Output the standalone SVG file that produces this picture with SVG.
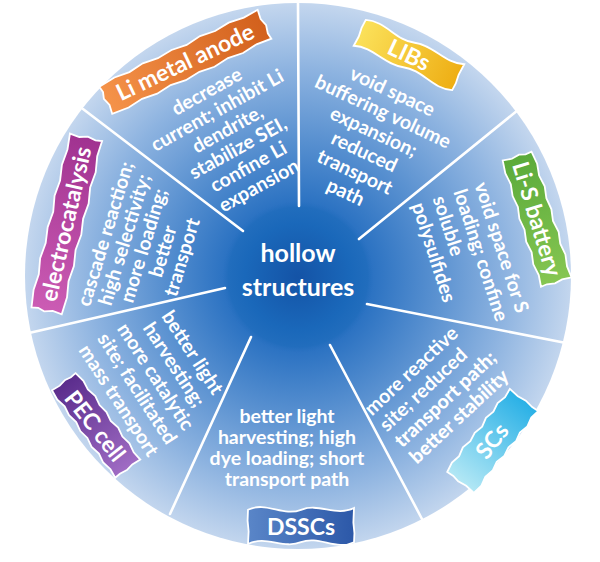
<svg xmlns="http://www.w3.org/2000/svg" xmlns:xlink="http://www.w3.org/1999/xlink" width="600" height="562" viewBox="0 0 600 562">
<style>
.d{font-family:Lato,"Open Sans","DejaVu Sans",sans-serif;font-weight:700;font-size:19.5px;fill:#fff}
.c{text-anchor:middle}
.t{font-family:Lato,"Open Sans","DejaVu Sans",sans-serif;font-weight:700;font-size:23px;fill:#fff;text-anchor:middle}
.h{font-family:Lato,"Open Sans","DejaVu Sans",sans-serif;font-weight:700;font-size:25px;fill:#fff;text-anchor:middle}
.tag{stroke:#fff;stroke-width:1.8}
.sp{stroke:#fff;stroke-width:2.6;stroke-linecap:round;fill:none}
</style>
<defs>
<radialGradient id="gBg" cx="298" cy="277" r="273" gradientUnits="userSpaceOnUse">
<stop offset="0" stop-color="#1a5fb0"/>
<stop offset="0.27" stop-color="#2b72c2"/>
<stop offset="0.5" stop-color="#5890d0"/>
<stop offset="0.76" stop-color="#8db3e0"/>
<stop offset="1" stop-color="#c3d6ee"/>
</radialGradient>
<radialGradient id="gIn" cx="298" cy="277" r="76" gradientUnits="userSpaceOnUse">
<stop offset="0" stop-color="#1453a6"/>
<stop offset="0.7" stop-color="#1a68ba"/>
<stop offset="0.92" stop-color="#1f6cbc" stop-opacity="0.8"/>
<stop offset="1" stop-color="#2870c0" stop-opacity="0"/>
</radialGradient>
<linearGradient id="gOr"><stop offset="0" stop-color="#f5934a"/><stop offset="1" stop-color="#d2601c"/></linearGradient>
<linearGradient id="gYe"><stop offset="0" stop-color="#fbe15a"/><stop offset="1" stop-color="#eeae14"/></linearGradient>
<linearGradient id="gGr"><stop offset="0" stop-color="#5aaa3a"/><stop offset="1" stop-color="#86c652"/></linearGradient>
<linearGradient id="gCy"><stop offset="0" stop-color="#b4e8f5"/><stop offset="1" stop-color="#28b0e6"/></linearGradient>
<linearGradient id="gBl"><stop offset="0" stop-color="#5a86c8"/><stop offset="1" stop-color="#2c58a8"/></linearGradient>
<linearGradient id="gPu"><stop offset="0" stop-color="#5a2c8c"/><stop offset="1" stop-color="#a06cc4"/></linearGradient>
<linearGradient id="gMa"><stop offset="0" stop-color="#cc5cb4"/><stop offset="1" stop-color="#a03290"/></linearGradient>
<path id="jag" vector-effect="non-scaling-stroke" d="M-50,-9 L-40,-10.2 L-31,-9.2 L-22,-10.6 L-13,-9.4 L-4,-10.4 L5,-9.2 L14,-10.6 L23,-9.4 L32,-10.5 L41,-9.3 L50,-10 L49.3,-4 L50.6,1 L49.5,6 L50,10 L41,9.2 L32,10.5 L23,9.3 L14,10.6 L5,9.4 L-4,10.5 L-13,9.2 L-22,10.4 L-31,9.3 L-40,10.6 L-50,9.8 L-49.2,4 L-50.6,-1 L-49.4,-5 Z"/>
<path id="wave" vector-effect="non-scaling-stroke" d="M-50,-9 C-33,-14 -17,-5 0,-9 C17,-13 33,-5 50,-10 L49.4,-2 L50.4,4 L50,9 C33,14 17,5 0,9 C-17,13 -33,5 -50,10 L-49.4,3 L-50.4,-3 Z"/>
</defs>

<g id="disc">
<circle cx="298" cy="276" r="273" fill="url(#gBg)"/>
<circle cx="298" cy="277" r="76" fill="url(#gIn)"/>
</g>

<g id="connectors">
<line class="sp" x1="299" y1="206" x2="298" y2="3"/>
<line class="sp" x1="359" y1="239" x2="518" y2="110"/>
<line class="sp" x1="367" y1="304" x2="566" y2="343"/>
<line class="sp" x1="330" y1="345" x2="422" y2="519"/>
<line class="sp" x1="251" y1="337" x2="170" y2="514"/>
<line class="sp" x1="225" y1="288" x2="29" y2="333"/>
<line class="sp" x1="243" y1="231" x2="83" y2="109"/>
</g>

<g id="center">
<text class="h" x="298" y="262">hollow</text>
<text class="h" x="298" y="296">structures</text>
</g>

<g id="li-metal-anode">
<use xlink:href="#jag" href="#jag" class="tag" fill="url(#gOr)" transform="translate(185,62) rotate(-25.4) scale(1.76,1.6)"/>
<text class="t" transform="translate(185,62) rotate(-25.4)" y="8">Li metal anode</text>
<g class="d c" transform="translate(207,92) rotate(-29)">
<text y="6">decrease</text>
<text y="27.5">current; inhibit Li</text>
<text y="49">dendrite,</text>
<text y="70.5">stabilize SEI,</text>
<text y="92">confine Li</text>
<text y="113.5">expansion</text>
</g>
</g>

<g id="libs">
<use xlink:href="#wave" href="#wave" class="tag" fill="url(#gYe)" transform="translate(409,55) rotate(25) scale(1.08,1.5)"/>
<text class="t" transform="translate(409,55) rotate(25)" y="8">LIBs</text>
<g class="d c" transform="translate(394,93) rotate(25)">
<text x="-2" y="6">void space</text>
<text x="-2" y="28.2">buffering volume</text>
<text x="-2" y="50.4">expansion;</text>
<text x="-2" y="72.6">reduced</text>
<text x="-2" y="94.8">transport</text>
<text x="-2" y="117">path</text>
</g>
</g>

<g id="li-s-battery">
<use xlink:href="#jag" href="#jag" class="tag" fill="url(#gGr)" transform="translate(537,219) rotate(73) scale(1.32,1.6)"/>
<text class="t" transform="translate(537,219) rotate(73)" y="8">Li-S battery</text>
<g class="d" transform="translate(480,183) rotate(72)">
<text y="6">void space for S</text>
<text y="28">loading; confine</text>
<text y="50">soluble</text>
<text y="72">polysulfides</text>
</g>
</g>

<g id="scs">
<use xlink:href="#jag" href="#jag" class="tag" fill="url(#gCy)" transform="translate(492,441) rotate(-52) scale(1.04,1.8)"/>
<text class="t" transform="translate(492,441) rotate(-52)" y="8">SCs</text>
<g class="d" transform="translate(368,412) rotate(-43)">
<text y="6">more reactive</text>
<text y="28">site; reduced</text>
<text y="50" font-weight="900">transport path;</text>
<text y="72" font-weight="900">better stability</text>
</g>
</g>

<g id="dsscs">
<use xlink:href="#wave" href="#wave" class="tag" fill="url(#gBl)" transform="translate(301,526) scale(1.06,1.8)"/>
<text class="t" x="301" y="535">DSSCs</text>
<g class="d c" font-size="18.5">
<text x="287" y="423">better light</text>
<text x="287" y="444">harvesting; high</text>
<text x="287" y="465">dye loading; short</text>
<text x="287" y="486">transport path</text>
</g>
</g>

<g id="pec-cell">
<use xlink:href="#jag" href="#jag" class="tag" fill="url(#gPu)" transform="translate(96,425) rotate(54) scale(1.08,1.55)"/>
<text class="t" transform="translate(95,426) rotate(52)" y="8">PEC cell</text>
<g class="d c" transform="translate(192,353) rotate(57)">
<text y="6">better light</text>
<text y="28">harvesting;</text>
<text y="50">more catalytic</text>
<text y="72">site; facilitated</text>
<text y="94">mass transport</text>
</g>
</g>

<g id="electrocatalysis">
<use xlink:href="#jag" href="#jag" class="tag" fill="url(#gMa)" transform="translate(66,224) rotate(-77) scale(1.78,1.65)"/>
<text class="t" transform="translate(66,224) rotate(-77)" y="8">electrocatalysis</text>
<g class="d c" transform="translate(106,234) rotate(-73)">
<text y="6">cascade reaction;</text>
<text y="26">high selectivity;</text>
<text y="46">more loading;</text>
<text y="66">better</text>
<text y="86">transport</text>
</g>
</g>
</svg>
